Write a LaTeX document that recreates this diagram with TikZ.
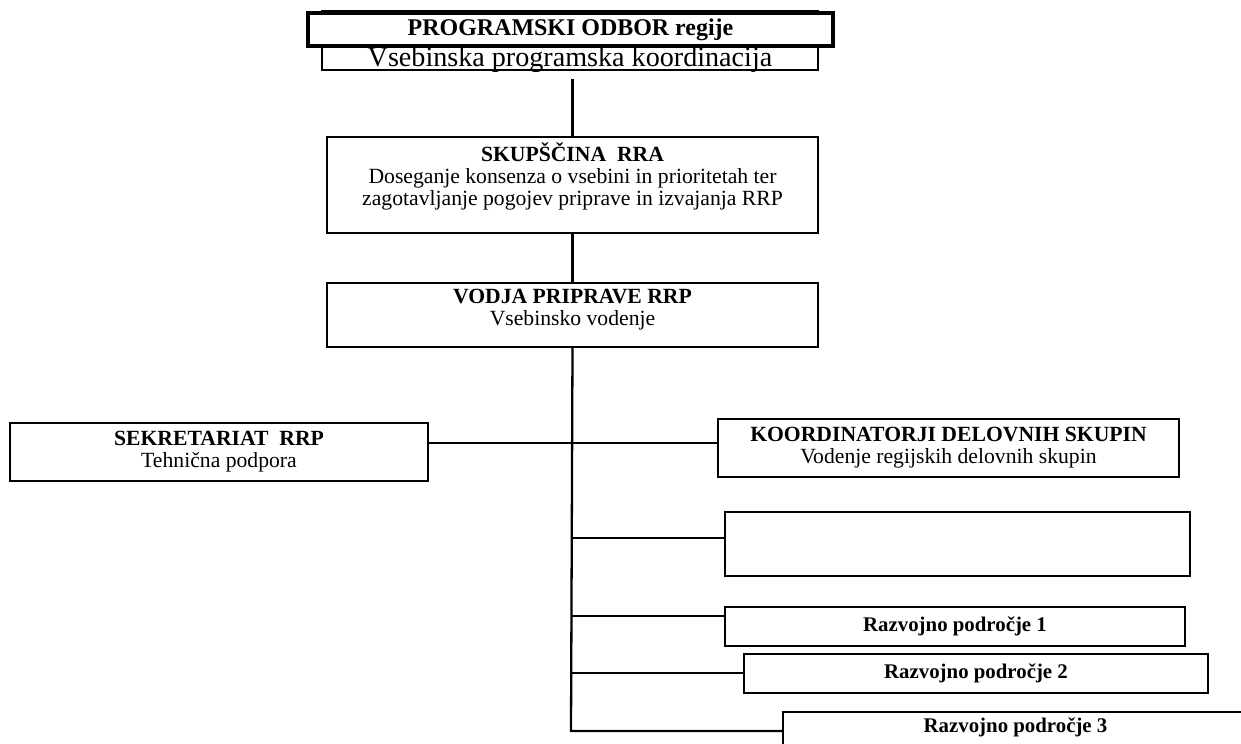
\documentclass[tikz,border=0pt]{standalone}
\usepackage{fontspec}
\setmainfont{Liberation Serif}
\usetikzlibrary{positioning}
\newcommand{\boxunit}{0.48pt}
\tikzset{
  orgbox/.style={draw, line width=1.1pt, fill=white, inner sep=0pt, align=center},
  headbox/.style={orgbox, line width=1.8pt},
  link/.style={line width=1.1pt}
}

\begin{document}
\begin{tikzpicture}[x=0.48pt, y=-0.48pt, font=\fontsize{10.4}{10.6}\selectfont]
  \useasboundingbox (0,0) rectangle (1241,744);
  \clip (0,0) rectangle (1241,744);
  % programski odbor
  \node[orgbox, minimum width=496*\boxunit, minimum height=59*\boxunit] (odbor) at (570,40.5) {};
  \node[headbox, minimum width=525*\boxunit, minimum height=33*\boxunit, font=\fontsize{11.5}{12}\selectfont]
    (odborhead) at (570.5,29.5) {\bfseries PROGRAMSKI ODBOR regije};
  \node[font=\fontsize{13.5}{14}\selectfont] (odborsub) at (570,59.5) {Vsebinska programska koordinacija};
  % skupscina, vodja
  \node[orgbox, minimum width=491*\boxunit, minimum height=96*\boxunit] (skup) at (572.5,185)
    {\bfseries SKUPŠČINA\ \ RRA\\Doseganje konsenza o vsebini in prioritetah ter\\zagotavljanje pogojev priprave in izvajanja RRP\\\mbox{}};
  \node[orgbox, minimum width=491*\boxunit, minimum height=64*\boxunit] (vodja) at (572.5,315)
    {\bfseries VODJA PRIPRAVE RRP\\Vsebinsko vodenje\\[-3pt]\mbox{}};
  % left and right branches
  \node[orgbox, minimum width=418*\boxunit, minimum height=58*\boxunit] (sekr) at (219,452)
    {\bfseries SEKRETARIAT\ \ RRP\\Tehnična podpora};
  \node[orgbox, minimum width=461*\boxunit, minimum height=58*\boxunit] (koord) at (948.5,448)
    {\bfseries KOORDINATORJI DELOVNIH SKUPIN\\Vodenje regijskih delovnih skupin};
  \node[orgbox, minimum width=465*\boxunit, minimum height=64*\boxunit] (blank) at (957.5,544) {};
  \node[orgbox, minimum width=460*\boxunit, minimum height=39*\boxunit, font=\bfseries] (r1) at (955,626.5)
    {Razvojno področje 1};
  \node[orgbox, minimum width=464*\boxunit, minimum height=39*\boxunit, font=\bfseries] (r2) at (976,673.5)
    {Razvojno področje 2};
  \node[orgbox, minimum width=465*\boxunit, minimum height=90*\boxunit,
    label={[anchor=north, font=\bfseries]north:Razvojno področje 3}] (r3) at (1015.5,757) {};
  % connectors
  \coordinate (t1) at (571,443);
  \coordinate (t2) at (571,538);
  \coordinate (t3) at (571,616);
  \coordinate (t4) at (571,673);
  \coordinate (t5) at (571,731);
  \draw[link, shorten <=4pt] (skup.north |- odbor.south) -- (skup.north);
  \draw[link] (skup.south) -- (vodja.north);
  \draw[link] (vodja.south) -- (t5) -- (r3.west |- t5);
  \draw[link] (sekr.east |- t1) -- (koord.west |- t1);
  \draw[link] (t2) -- (blank.west |- t2);
  \draw[link] (t3) -- (r1.west |- t3);
  \draw[link] (t4) -- (r2.west |- t4);
\end{tikzpicture}
\end{document}
